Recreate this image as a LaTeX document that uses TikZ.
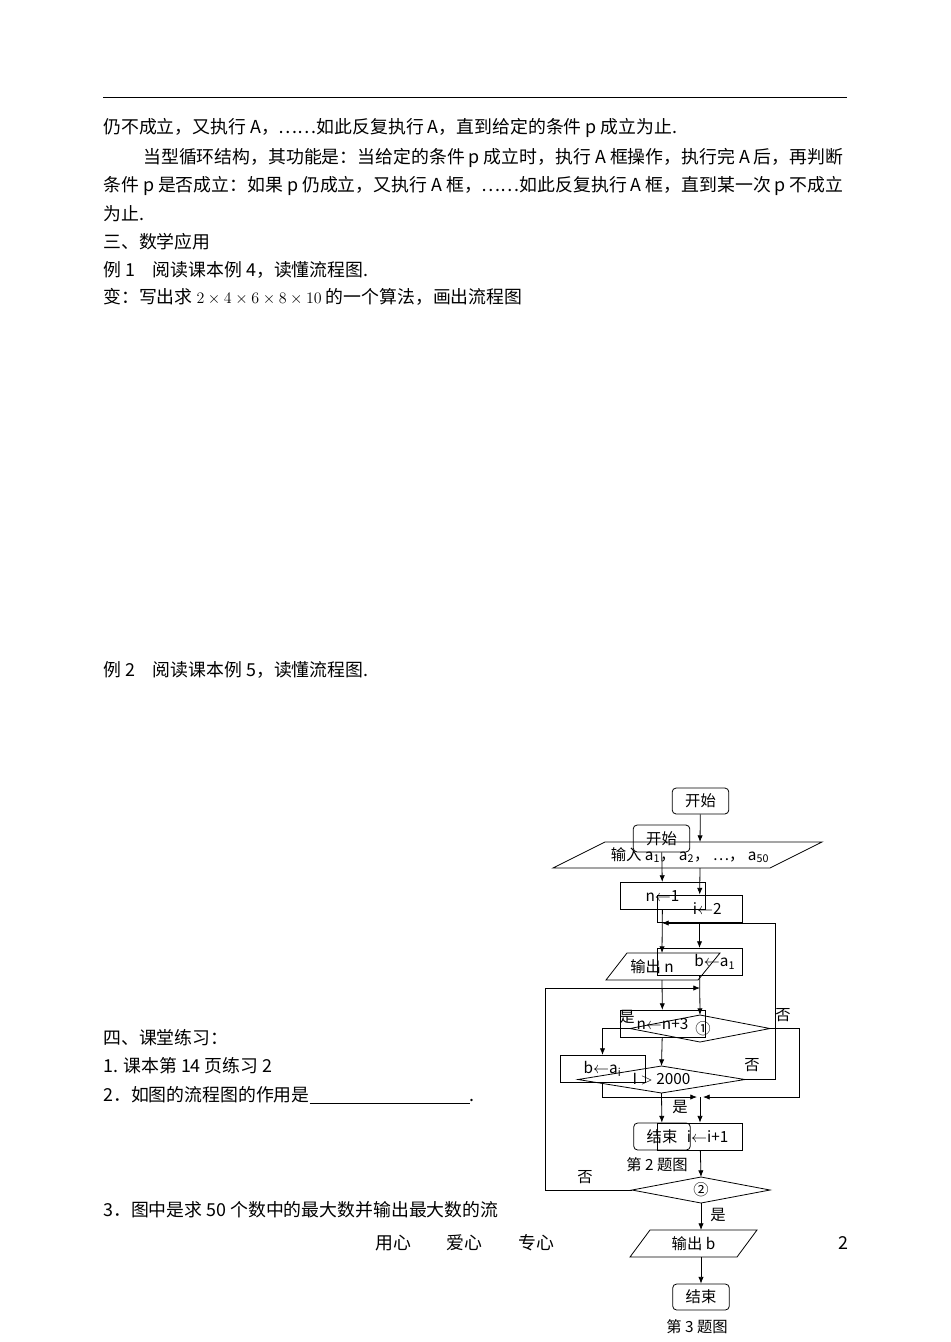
\documentclass[tikz,border=0pt]{standalone}
\usepackage{fontspec}
\setmainfont{Noto Sans CJK SC}
\usetikzlibrary{calc, positioning, arrows.meta}
\begin{document}
\begin{tikzpicture}
			[x=0.75pt, y=-0.75pt, >={Latex[length=5pt,width=4pt]},
			txt/.style={anchor=west, inner sep=0, font=\fontsize{13.4}{15}\selectfont},
			lbl/.style={inner sep=0, font=\fontsize{11.5}{13}\selectfont},
			box/.style={draw, line width=.6, inner sep=0, minimum width=63.75pt, minimum height=20.5pt, font=\fontsize{11.5}{13}\selectfont},
			term/.style={box, rounded corners=3pt, minimum width=42.5pt}]
			\useasboundingbox (0,0) rectangle (950,1342);
			% page text %
			\draw[line width=.6] (103,97) -- (847,97);
			\node[txt] (l1) at (103,128) {仍不成立，又执行 A，……如此反复执行 A，直到给定的条件 p 成立为止.};
			\node[txt] (l2) at (143,158) {当型循环结构，其功能是：当给定的条件 p 成立时，执行 A 框操作，执行完 A 后，再判断};
			\node[txt] (l3) at (103,186) {条件 p 是否成立：如果 p 仍成立，又执行 A 框，……如此反复执行 A 框，直到某一次 p 不成立};
			\node[txt] (l4) at (103,214) {为止.};
			\node[txt] (l5) at (103,242) {三、数学应用};
			\node[txt] (l6) at (103,270) {例 1\quad 阅读课本例 4，读懂流程图.};
			\node[txt] (l7) at (103,297) {变：写出求 {\large$2\times4\times6\times8\times10$} 的一个算法，画出流程图};
			\node[txt] (l8) at (103,670) {例 2\quad 阅读课本例 5，读懂流程图.};
			\node[txt] (l9) at (103,1038) {四、课堂练习：};
			\node[txt] (l10) at (103,1066) {1. 课本第 14 页练习 2};
			\node[txt] (l11) at (103,1095) {2．如图的流程图的作用是\underline{\hspace{120pt}}.};
			\node[txt] (l12) at (103,1210) {3．图中是求 50 个数中的最大数并输出最大数的流};
			\node[txt] (ft) at (375,1243) {用心\qquad 爱心\qquad 专心};
			\node[txt] (pg) at (838,1243) {2};

			% chart 3 nodes %
			\node[term, minimum height=19.5pt] (s3) at (700.5,801) {开始};
			\draw[line width=.6] (605,842) -- (822,842) -- (770,868) -- (553,868) -- cycle;
			\node[lbl] (in3) at (690,855) {输入 a\textsubscript{1}， a\textsubscript{2}， …， a\textsubscript{50}};
			\coordinate (in3n) at (700,842);
			\coordinate (in3s) at (700,868);
			\node[box, minimum height=20.25pt] (i2) at (699.5,908.5) {\quad i$\leftarrow$2};
			\node[box] (ba1) at (699.5,962) {\qquad b$\leftarrow$a\textsubscript{1}};
			\draw[line width=.6] (630,1028.5) -- (700,1015) -- (770,1028.5) -- (700,1042) -- cycle;
			\node[lbl] (d1) at (703,1029) {①};
			\node[box] (bai) at (602.5,1069) {b$\leftarrow$a\textsubscript{i}\quad};
			\node[box, minimum height=20.25pt] (ii1) at (700,1136.5) {\quad i$\leftarrow$i+1};
			\draw[line width=.6] (632,1190) -- (701,1177) -- (770,1190) -- (701,1203) -- cycle;
			\node[lbl] (d2) at (701,1190) {②};
			\draw[line width=.6] (650,1230) -- (757,1230) -- (737,1257) -- (630,1257) -- cycle;
			\node[lbl] (outb) at (693.5,1243.5) {输出 b};
			\node[term, minimum height=19.5pt] (e3) at (701,1297) {结束};
			\node[lbl] (c3) at (697,1327) {第 3 题图};
			\coordinate (j3) at (700,1097);
			\coordinate (k3) at (700,988);

			% chart 3 edges %
			\draw[->, line width=.6] (s3) -- (in3n);
			\draw[->, line width=.6] (in3s) -- (i2);
			\draw[->, line width=.6] (i2) -- (ba1);
			\draw[->, line width=.6] (ba1) -- (700,1015);
			\draw[->, line width=.6] (630,1028.5) -| (bai);
			\draw[->, line width=.6] (770,1028.5) -- (799,1028.5) |- ($(j3)+(3,0)$);
			\draw[->, line width=.6] (bai) |- ($(j3)+(-3,0)$);
			\draw[->, line width=.6] (j3) -- (ii1);
			\draw[->, line width=.6] (ii1) -- (701,1177);
			\draw[->, line width=.6] (632,1190) -- (545,1190) |- (k3);
			\draw[->, line width=.6] (701,1203) -- (701,1230);
			\draw[->, line width=.6] (701,1257) -- (e3);
			\node[lbl] at (627,1017) {是};
			\node[lbl] at (783,1015) {否};
			\node[lbl] at (585,1177) {否};
			\node[lbl] at (718,1215) {是};

			% chart 2 nodes %
			\node[term, minimum height=20.25pt] (s2) at (661.5,838.5) {开始};
			\node[box] (n1) at (662.5,896) {n$\leftarrow$1\quad};
			\draw[line width=.6] (627,953) -- (720,953) -- (698,980) -- (606,980) -- cycle;
			\node[lbl] (outn) at (652,966.5) {输出 n};
			\node[box] (nn3) at (662.5,1024) {n$\leftarrow$n+3\qquad};
			\draw[line width=.6] (578,1079.5) -- (661.5,1066) -- (745,1079.5) -- (661.5,1093) -- cycle;
			\node[lbl] (dI) at (661.5,1079.5) {I $>$ 2000};
			\node[term, minimum height=20.25pt] (e2) at (662,1136.5) {结束\quad};
			\node[lbl] (c2) at (657,1165) {第 2 题图};

			% chart 2 edges %
			\draw[->, line width=.6] (s2) -- (n1);
			\draw[->, line width=.6] (n1) -- (662,953);
			\draw[->, line width=.6] (745,1079.5) -- (775,1079.5) |- (662,923);
			\draw[->, line width=.6] (662,980) -- (nn3);
			\draw[->, line width=.6] (nn3) -- (661.5,1066);
			\draw[->, line width=.6] (661.5,1093) -- (e2);
			\node[lbl] at (752,1065) {否};
			\node[lbl] at (680,1107) {是};
\end{tikzpicture}
\end{document}
